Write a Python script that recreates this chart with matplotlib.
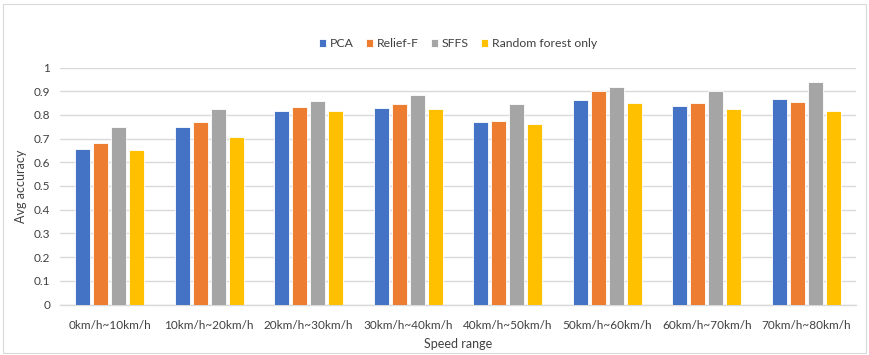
import numpy as np
import matplotlib.pyplot as plt
from matplotlib.patches import Rectangle

plt.rcParams['font.family'] = ['Lato', 'DejaVu Sans']

# data
speed_ranges = ['0km/h~10km/h', '10km/h~20km/h', '20km/h~30km/h', '30km/h~40km/h',
                '40km/h~50km/h', '50km/h~60km/h', '60km/h~70km/h', '70km/h~80km/h']
pca = [0.658, 0.747, 0.818, 0.830, 0.772, 0.862, 0.837, 0.865]
relief_f = [0.681, 0.768, 0.832, 0.844, 0.775, 0.899, 0.852, 0.854]
sffs = [0.750, 0.823, 0.858, 0.886, 0.844, 0.916, 0.900, 0.939]
rf_only = [0.651, 0.707, 0.816, 0.825, 0.761, 0.851, 0.825, 0.818]

series = [('PCA', pca, '#4472C4'),
          ('Relief-F', relief_f, '#ED7D31'),
          ('SFFS', sffs, '#A5A5A5'),
          ('Random forest only', rf_only, '#FFC000')]

fig = plt.figure(figsize=(8.7, 3.55), dpi=100)
ax = fig.add_axes([60 / 870, 1 - 304.5 / 355, 796 / 870, 237 / 355])

x = np.arange(len(speed_ranges))
step = 0.182
width = 0.15
for i, (name, vals, color) in enumerate(series):
    ax.bar(x + (i - 1.5) * step, vals, width, color=color, label=name,
           edgecolor='white', linewidth=0.6, zorder=3)

ax.set_xlim(-0.5, len(speed_ranges) - 0.5)
ax.set_ylim(0, 1)
ax.set_yticks(np.arange(0, 1.01, 0.1))
ax.set_yticklabels(['0', '0.1', '0.2', '0.3', '0.4', '0.5', '0.6', '0.7', '0.8', '0.9', '1'])
ax.set_xticks(x)
ax.set_xticklabels(speed_ranges)
ax.yaxis.grid(True, color='#D9D9D9', linewidth=1.0, zorder=0)
ax.set_axisbelow(True)
for s in ['top', 'right', 'left']:
    ax.spines[s].set_visible(False)
ax.spines['bottom'].set_color('#D9D9D9')
ax.spines['bottom'].set_linewidth(1.0)
ax.tick_params(axis='both', length=0, labelsize=8.5, colors='#404040')
ax.tick_params(axis='x', pad=11)
ax.tick_params(axis='y', pad=7)
ax.set_xlabel('Speed range', fontsize=9, color='#404040', labelpad=5)
ax.set_ylabel('Avg accuracy', fontsize=9, color='#404040', labelpad=5)

ax.legend(loc='lower center', bbox_to_anchor=(0.5, 1.03), ncol=4, frameon=False,
          fontsize=8.8, handlelength=0.6, handleheight=0.6, handletextpad=0.3,
          columnspacing=1.0, labelcolor='#404040')

fig.patches.append(Rectangle((3 / 870, 2 / 355), 863 / 870, 349 / 355,
                             transform=fig.transFigure, fill=False,
                             edgecolor='#D9D9D9', linewidth=0.8))

fig.savefig('out.png', dpi=100)
